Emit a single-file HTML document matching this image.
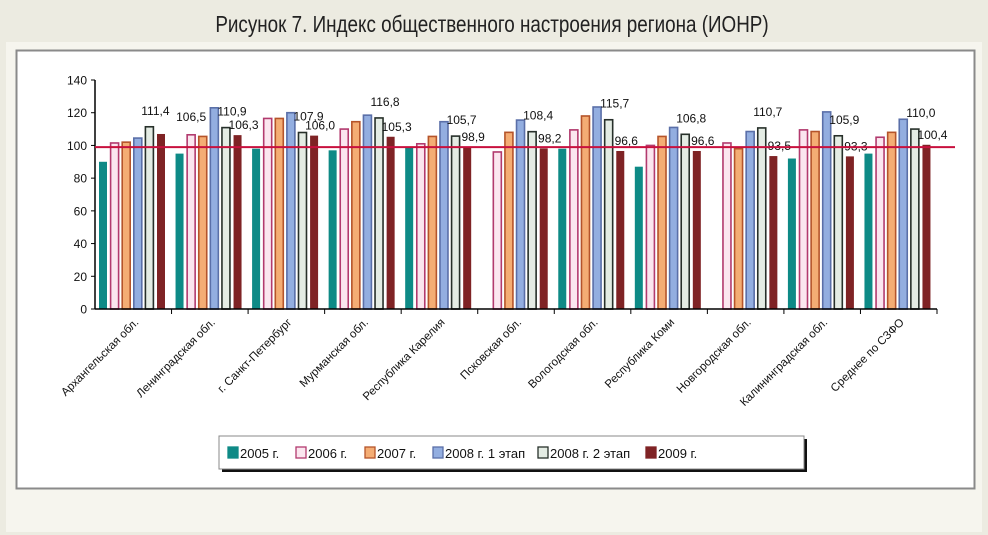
<!DOCTYPE html>
<html><head><meta charset="utf-8">
<style>
body{margin:0;background:#ecebe1;width:988px;height:535px;overflow:hidden;font-family:"Liberation Sans",sans-serif;}
svg{display:block}
</style></head>
<body>
<svg id="chart" width="988" height="535" xmlns="http://www.w3.org/2000/svg">
<rect x="0" y="0" width="988" height="535" fill="#ecebe1"/>
<rect x="6" y="42" width="976" height="490" fill="#f6f5ee"/>
<text x="492" y="32" text-anchor="middle" font-size="23" fill="#222" transform="translate(492,0) scale(0.82,1) translate(-492,0)">Рисунок 7. Индекс общественного настроения региона (ИОНР)</text>
<rect x="16.5" y="50.5" width="958" height="438" fill="#fff" stroke="#8a8a8a" stroke-width="2"/>
<g id="plot"></g>
</svg>
<script>
const categories=["Архангельская обл.","Ленинградская обл.","г. Санкт-Петербург","Мурманская обл.","Республика Карелия","Псковская обл.","Вологодская обл.","Республика Коми","Новгородская обл.","Калининградская обл.","Среднее по СЗФО"];
const s2005=[90,95,98,97,99,0,98,87,0,92,95];
const s2006=[101.5,106.5,116.5,110,101,96,109.5,100,101.5,109.5,105];
const s2007=[102,105.5,116.5,114.5,105.5,108,118,105.5,98,108.5,108];
const s2008a=[104.5,123,120,118.5,114.5,115.5,123.5,111,108.5,120.5,116];
const s2008b=[111.4,110.9,107.9,116.8,105.7,108.4,115.7,106.8,110.7,105.9,110.0];
const s2009=[107,106.3,106.0,105.3,98.9,98.2,96.6,96.6,93.5,93.3,100.4];
const labelsB=["111,4","110,9","107,9","116,8","105,7","108,4","115,7","106,8","110,7","105,9","110,0"];
const labelsR=["","106,3","106,0","105,3","98,9","98,2","96,6","96,6","93,5","93,3","100,4"];
const labelsP=["","106,5","","","","","","","","",""];
const yTicks=[0,20,40,60,80,100,120,140];
const refValue=99;
const seriesNames=["2005 г.","2006 г.","2007 г.","2008 г. 1 этап","2008 г. 2 этап","2009 г."];

const NS="http://www.w3.org/2000/svg";
const g=document.getElementById('plot');
const x0=95,x1=937,y0=309,yTop=80,ymax=140;
const gw=(x1-x0)/categories.length;
const yS=v=>y0-(v/ymax)*(y0-yTop);
function mk(tag,attrs,parent){const e=document.createElementNS(NS,tag);for(const k in attrs)e.setAttribute(k,attrs[k]);(parent||g).appendChild(e);return e;}
const styles=[
 {fill:"#0e8a86",stroke:"none"},
 {fill:"#fbe6ef",stroke:"#b23a6e"},
 {fill:"#f4ad74",stroke:"#b5542a"},
 {fill:"#93aee0",stroke:"#5a6fa8"},
 {fill:"#e4ece4",stroke:"#27302a"},
 {fill:"#7f2325",stroke:"none"}];
const series=[s2005,s2006,s2007,s2008a,s2008b,s2009];
// axis
let ax=mk('line',{x1:x0,y1:yTop,x2:x0,y2:y0,stroke:'#000','stroke-width':1.5});


yTicks.forEach(t=>{
 const y=yS(t);
 const l=mk('line',{x1:x0-4,y1:y,x2:x0,y2:y,stroke:'#000'});
 
 
 const tx=mk('text',{x:x0-8,y:y+4.5,'text-anchor':'end','font-size':12,fill:'#111'});
 tx.textContent=t;
 
 
});
categories.forEach((c,i)=>{
 const gx=x0+i*gw;
 series.forEach((s,j)=>{
  const v=s[i]; if(!v) return;
  const bx=gx+4+j*11.6, st=styles[j];
  const r=mk('rect',{x:bx,y:yS(v),width:8,height:y0-yS(v),fill:st.fill,stroke:st.stroke,'stroke-width':st.stroke==='none'?0:1.6});
  
  
 });
 const tk=mk('line',{x1:gx+gw,y1:y0,x2:gx+gw,y2:y0+5,stroke:'#000'});
 
 
 const cx=gx+gw/2+6;
 const ct=mk('text',{x:cx,y:y0+14,'text-anchor':'end','font-size':11.5,fill:'#111',transform:`rotate(-45 ${cx} ${y0+14})`});
 ct.textContent=c;
 
 
 const bxB=gx+4+4*11.6;
 if(labelsB[i]){
  const t=mk('text',{x:bxB+10,y:yS(s2008b[i])-12,'text-anchor':'middle','font-size':12,fill:'#111'});
  t.textContent=labelsB[i];
  
  
 }
 if(labelsR[i]){
  const bxR=gx+4+5*11.6;
  const t=mk('text',{x:bxR+10,y:yS(s2009[i])-6,'text-anchor':'middle','font-size':12,fill:'#111'});
  t.textContent=labelsR[i];
  
  
 }
 if(labelsP[i]){
  const t=mk('text',{x:gx+4+11.6+4,y:yS(s2006[i])-14,'text-anchor':'middle','font-size':12,fill:'#111'});
  t.textContent=labelsP[i];
  
  
 }
});
const xa=mk('line',{x1:x0,y1:y0,x2:x1,y2:y0,stroke:'#000','stroke-width':1.5});


const ref=mk('line',{x1:x0,y1:yS(refValue),x2:955,y2:yS(refValue),stroke:'#c8103e','stroke-width':2});


// legend
const lg=mk('g',{});


mk('rect',{x:222,y:439,width:585,height:33,fill:'#111'},lg);
mk('rect',{x:219,y:436,width:585,height:33,fill:'#fff',stroke:'#888','stroke-width':1},lg);
const lx=[228,296,365,433,538,646];
seriesNames.forEach((n,j)=>{
 const st=styles[j];
 const e=mk('g',{},lg);
 
 
 mk('rect',{x:lx[j],y:447,width:10,height:11,fill:st.fill,stroke:st.stroke==='none'?st.fill:st.stroke,'stroke-width':1.3},e);
 const t=mk('text',{x:lx[j]+12,y:458,'font-size':13,fill:'#111'},e);
 t.textContent=n;
});
</script>
</body></html>
